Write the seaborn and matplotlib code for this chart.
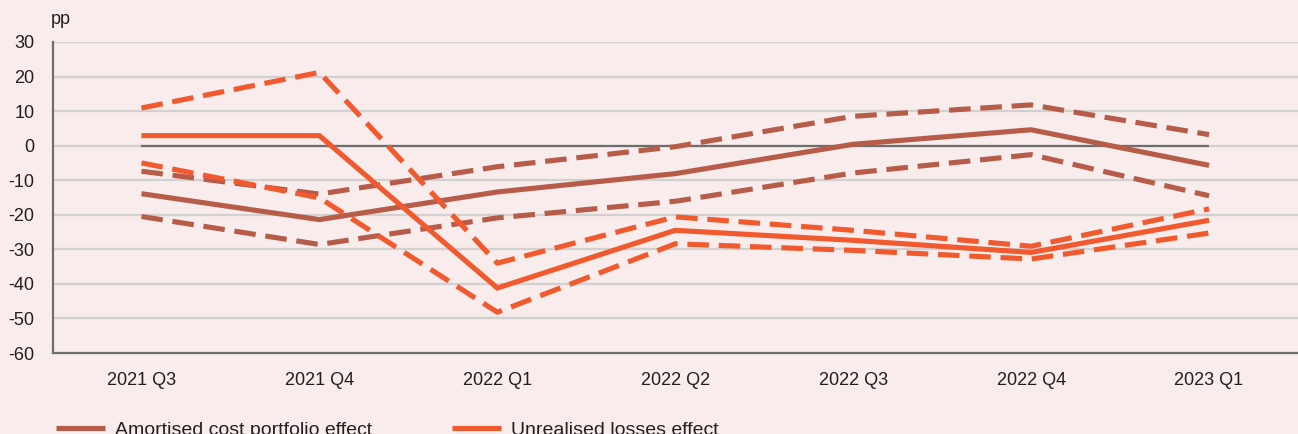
import matplotlib
matplotlib.use("Agg")
import matplotlib.pyplot as plt
from matplotlib.lines import Line2D
import seaborn as sns
import pandas as pd

categories = ["2021 Q3", "2021 Q4", "2022 Q1", "2022 Q2", "2022 Q3", "2022 Q4", "2023 Q1"]

amortised = [-13.9, -21.4, -13.4, -8.1, 0.4, 4.6, -5.7]
amortised_upper = [-7.4, -14.0, -6.1, -0.3, 8.5, 11.8, 3.2]
amortised_lower = [-20.5, -28.6, -20.9, -16.1, -7.9, -2.6, -14.5]

unrealised = [2.9, 2.9, -41.2, -24.5, -27.4, -30.9, -21.6]
unrealised_upper = [10.9, 21.2, -34.0, -20.6, -24.5, -29.1, -18.3]
unrealised_lower = [-5.0, -15.1, -48.2, -28.4, -30.3, -32.8, -25.3]

yticks = [30, 20, 10, 0, -10, -20, -30, -40, -50, -60]
legend_labels = ["Amortised cost portfolio effect", "Unrealised losses effect"]
unit_label = "pp"

BG = "#f8ecec"
BROWN = "#b85c4a"
ORANGE = "#f15a2e"
GRID = "#d3d0d0"
AXIS = "#6e6e70"
TEXT = "#231f20"

sns.set_theme(style="white")
plt.rcParams["font.family"] = ["Liberation Sans", "DejaVu Sans"]

fig = plt.figure(figsize=(12.98, 4.34), dpi=100, facecolor=BG)
ax = fig.add_axes([52.5 / 1298, 81 / 434, 1 - 52.5 / 1298, 311 / 434])
ax.set_facecolor(BG)

# gridlines
for v in yticks:
    ax.axhline(v, color=GRID, lw=1.6, zorder=0)
# zero line spanning data range
ax.hlines(0, 0, len(categories) - 1, color=AXIS, lw=1.6, zorder=1)

series = [
    (amortised, BROWN, "-"),
    (amortised_upper, BROWN, "--"),
    (amortised_lower, BROWN, "--"),
    (unrealised, ORANGE, "-"),
    (unrealised_upper, ORANGE, "--"),
    (unrealised_lower, ORANGE, "--"),
]
for vals, col, ls in series:
    df = pd.DataFrame({"q": categories, "v": vals})
    sns.lineplot(data=df, x="q", y="v", ax=ax, color=col, lw=3.7,
                 legend=False, sort=False, zorder=3)
    l = ax.get_lines()[-1]
    if ls == "--":
        l.set_dashes((4.2, 1.9))
    l.set_solid_capstyle("butt")
    l.set_dash_capstyle("butt")
    l.set_solid_joinstyle("miter")

ax.set_xlim(-0.5, -0.5 + (1298 - 52.5) / 179)
ax.set_ylim(-60, 30)
ax.set_yticks(yticks)
ax.set_yticklabels([str(v) for v in yticks])
ax.set_xticks(range(len(categories)))
ax.set_xticklabels(categories)
ax.set_xticks([i + 0.5 for i in range(len(categories))], minor=True)
ax.tick_params(axis="y", length=0, pad=13, labelsize=13, labelcolor=TEXT)
ax.tick_params(axis="x", which="major", length=0, pad=14, labelsize=13, labelcolor=TEXT)
ax.tick_params(axis="x", which="minor", length=5, width=1.2, direction="in", color=AXIS)
ax.set_xlabel("")
ax.set_ylabel("")

for s in ["top", "right"]:
    ax.spines[s].set_visible(False)
for s in ["left", "bottom"]:
    ax.spines[s].set_color(AXIS)
    ax.spines[s].set_linewidth(1.6)
    ax.spines[s].set_zorder(2)

fig.text(51 / 1298, 1 - 20 / 434, unit_label, fontsize=13, color=TEXT,
         ha="left", va="center")

handles = [Line2D([0], [0], color=BROWN, lw=3.7, solid_capstyle="butt"),
           Line2D([0], [0], color=ORANGE, lw=3.7, solid_capstyle="butt")]
fig.legend(handles, legend_labels, loc="upper left",
           bbox_to_anchor=(38 / 1298, 1 - 404 / 434), ncol=2, frameon=False,
           fontsize=14, handlelength=2.55, handletextpad=0.5, columnspacing=4.1,
           labelcolor=TEXT)

fig.savefig("out.png", dpi=100, facecolor=BG)
